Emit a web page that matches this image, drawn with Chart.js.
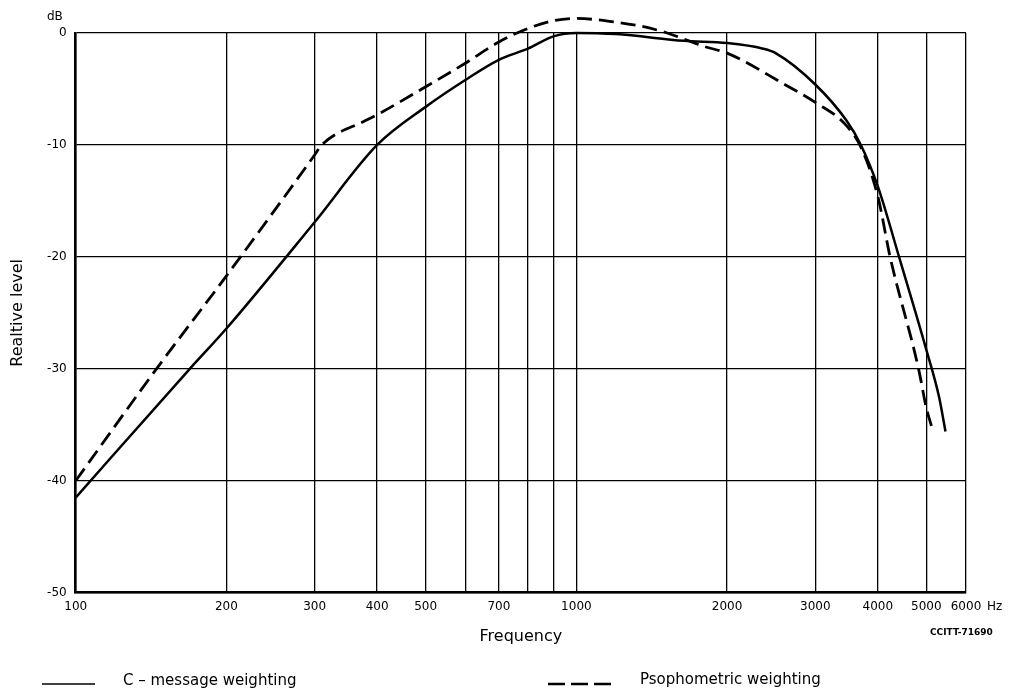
<!DOCTYPE html>
<html>
<head>
<meta charset="utf-8">
<title>Weighting curves</title>
<script src="https://cdn.jsdelivr.net/npm/chart.js@4.4.1/dist/chart.umd.min.js"></script>
<style>
  body { margin: 0; background: #fff; }
  #wrap { position: relative; width: 1010px; height: 695px; font-family: "DejaVu Sans", sans-serif; color: #000; }
  canvas { position: absolute; left: 0; top: 0; }
  .lbl { position: absolute; white-space: nowrap; }
</style>
</head>
<body>
<div id="wrap">
  <canvas id="chart" width="1010" height="695"></canvas>
  <div class="lbl" style="left:47px;top:9px;font-size:12px;">dB</div>
  <div class="lbl" style="left:987px;top:599px;font-size:12px;">Hz</div>
  <div class="lbl" style="left:930px;top:627px;font-size:9px;font-weight:bold;">CCITT-71690</div>
  <svg class="lbl" style="left:0;top:660px" width="1010" height="40">
    <line x1="42" y1="24" x2="95" y2="24" stroke="#000" stroke-width="1.5"/>
    <line x1="548" y1="24" x2="612" y2="24" stroke="#000" stroke-width="2.5" stroke-dasharray="17 6"/>
  </svg>
  <div class="lbl" style="left:123px;top:671px;font-size:15px;">C – message weighting</div>
  <div class="lbl" style="left:640px;top:670px;font-size:15px;">Psophometric weighting</div>
</div>
<script>
// values
const cMsgFreq  = [100, 169, 200, 300, 400, 500, 600, 700, 800, 900, 1000, 1200, 1640, 2000, 2360, 2500, 3000, 3460, 3700, 4000, 4410, 5000, 5300, 5460];
const cMsgLevel = [-41.5, -30, -26.4, -16.9, -10, -6.6, -4.2, -2.4, -1.4, -0.3, 0, -0.1, -0.7, -0.9, -1.4, -1.8, -4.6, -7.8, -10, -13.7, -20, -28.3, -32.5, -35.6];

const psophFreq  = [100, 145, 200, 300, 310, 380, 400, 500, 600, 700, 800, 900, 1000, 1186, 1362, 1518, 1800, 2000, 2584, 3000, 3433, 3700, 4000, 4232, 4824, 5000, 5160];
const psophLevel = [-40, -30, -21.7, -10.9, -10, -7.8, -7.3, -4.8, -2.7, -0.8, 0.4, 1.1, 1.3, 1.0, 0.56, 0, -1.2, -1.8, -4.5, -6.2, -8.1, -10.2, -14.6, -20, -30, -33.5, -35.6];

const gridFreqs  = [100, 200, 300, 400, 500, 600, 700, 800, 900, 1000, 2000, 3000, 4000, 5000, 6000];
const freqLabels = [100, 200, 300, 400, 500, 700, 1000, 2000, 3000, 4000, 5000, 6000];
const levelTicks = [0, -10, -20, -30, -40, -50];

Chart.defaults.font.family = '"DejaVu Sans", sans-serif';
Chart.defaults.color = '#000';

const toPoints = (xs, ys) => xs.map((x, i) => ({ x: x, y: ys[i] }));

new Chart(document.getElementById('chart'), {
  type: 'line',
  data: {
    datasets: [{
      label: 'C – message weighting',
      data: toPoints(cMsgFreq, cMsgLevel),
      borderColor: '#000',
      borderWidth: 2.5,
      pointRadius: 0,
      cubicInterpolationMode: 'monotone',
      clip: false
    }, {
      label: 'Psophometric weighting',
      data: toPoints(psophFreq, psophLevel),
      borderColor: '#000',
      borderWidth: 2.8,
      borderDash: [15, 7],
      pointRadius: 0,
      cubicInterpolationMode: 'monotone',
      clip: false
    }]
  },
  options: {
    responsive: false,
    animation: false,
    layout: { padding: { top: 33, right: 44, bottom: 45, left: 0 } },
    plugins: { legend: { display: false }, tooltip: { enabled: false } },
    scales: {
      x: {
        type: 'logarithmic',
        min: 100,
        max: 6000,
        afterBuildTicks: s => { s.ticks = gridFreqs.map(v => ({ value: v })); },
        afterFit: s => { s.height = 57.3; },
        ticks: {
          autoSkip: false,
          maxRotation: 0,
          padding: 7,
          font: { size: 12 },
          callback: v => freqLabels.includes(v) ? String(v) : ''
        },
        grid: { color: '#000', lineWidth: 1.3, drawTicks: false },
        border: { color: '#000', width: 2.5 },
        title: { display: true, text: 'Frequency', font: { size: 16 }, padding: { top: 0, bottom: 4 } }
      },
      y: {
        min: -50,
        max: 0,
        afterBuildTicks: s => { s.ticks = levelTicks.map(v => ({ value: v })); },
        afterFit: s => { s.width = 75.7; },
        ticks: { padding: 9, font: { size: 12 } },
        grid: { color: '#000', lineWidth: 1.3, drawTicks: false },
        border: { color: '#000', width: 2.5 },
        title: { display: true, text: 'Realtive level', font: { size: 16 }, padding: { top: 8, bottom: 0 } }
      }
    }
  }
});
</script>
</body>
</html>
